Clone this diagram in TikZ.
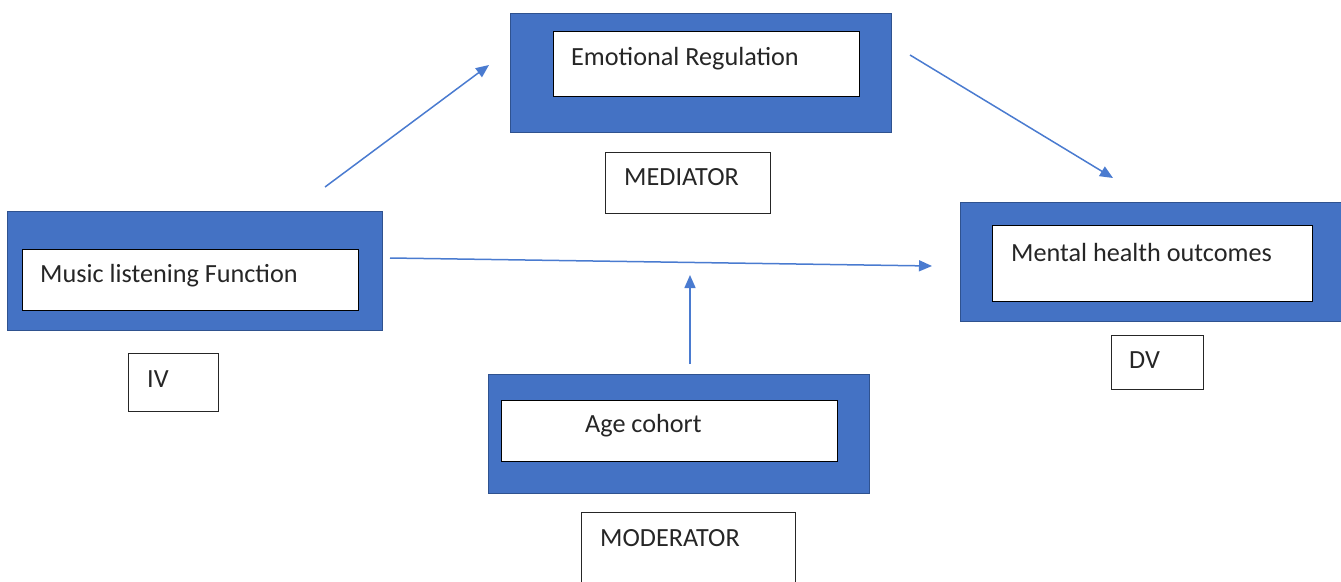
\documentclass[tikz,border=0pt]{standalone}
\usepackage{fontspec}
\setmainfont{Carlito}
\usetikzlibrary{arrows.meta}
\definecolor{fillblue}{HTML}{4472C4}
\definecolor{bordblue}{HTML}{2F528F}
\definecolor{arrowblue}{HTML}{4A7BD0}
\definecolor{txtgray}{HTML}{262626}
\begin{document}
\begin{tikzpicture}[x=1pt,y=-1pt,
  outerbox/.style={draw=bordblue, fill=fillblue, line width=1pt, inner sep=0pt, anchor=north west},
  innerbox/.style={draw=black, fill=white, line width=1.4pt, inner sep=0pt, anchor=north west},
  lblbox/.style={draw=black!85, fill=white, line width=1pt, inner sep=0pt, anchor=north west},
  txt/.style={anchor=base west, inner sep=0pt, text=txtgray, font=\fontsize{26.2}{30}\selectfont},
  conn/.style={draw=arrowblue, line width=1.5pt, -{Triangle[length=13pt,width=11pt]}}]
\useasboundingbox (0,0) rectangle (1341,581);

% Emotional Regulation (mediator)
\node[outerbox, minimum width=381pt, minimum height=119pt] (erOut) at (510,13) {};
\node[innerbox, minimum width=306pt, minimum height=65pt] (er) at (553,31) {};
\node[txt] (erT) at (571,65) {Emotional Regulation};
\node[lblbox, minimum width=165pt, minimum height=61pt] (med) at (605,152) {};
\node[txt] (medT) at (624,185) {MEDIATOR};

% Music listening Function (IV)
\node[outerbox, minimum width=375pt, minimum height=119pt] (ivOut) at (7,211) {};
\node[innerbox, minimum width=336pt, minimum height=61pt] (iv) at (22,249) {};
\node[txt] (ivT) at (40,282) {Music listening Function};
\node[lblbox, minimum width=90pt, minimum height=58pt] (ivL) at (128,353) {};
\node[txt] (ivLT) at (147,387) {IV};

% Mental health outcomes (DV)
\node[outerbox, minimum width=390pt, minimum height=119pt] (dvOut) at (960,202) {};
\node[innerbox, minimum width=320pt, minimum height=76pt] (dv) at (992,225) {};
\node[txt] (dvT) at (1011,261) {Mental health outcomes};
\node[lblbox, minimum width=92pt, minimum height=54pt] (dvL) at (1111,335) {};
\node[txt] (dvLT) at (1129,368) {DV};

% Age cohort (moderator)
\node[outerbox, minimum width=381pt, minimum height=119pt] (agOut) at (488,374) {};
\node[innerbox, minimum width=336pt, minimum height=61pt] (ag) at (501,400) {};
\node[txt] (agT) at (585,432) {Age cohort};
\node[lblbox, minimum width=214pt, minimum height=90pt] (mod) at (581,512) {};
\node[txt] (modT) at (600,546) {MODERATOR};

% connector end points
\coordinate (a1s) at (325,187);
\coordinate (a1e) at (489,65);
\coordinate (a2s) at (910,55);
\coordinate (a2e) at (1113,178);
\coordinate (a3s) at (390,258);
\coordinate (a3e) at (932,266);
\coordinate (a4s) at (690,364);
\coordinate (a4e) at (690,275);

\draw[conn] (a1s) -- (a1e);
\draw[conn] (a2s) -- (a2e);
\draw[conn] (a3s) -- (a3e);
\draw[conn] (a4s) -- (a4e);
\end{tikzpicture}
\end{document}
